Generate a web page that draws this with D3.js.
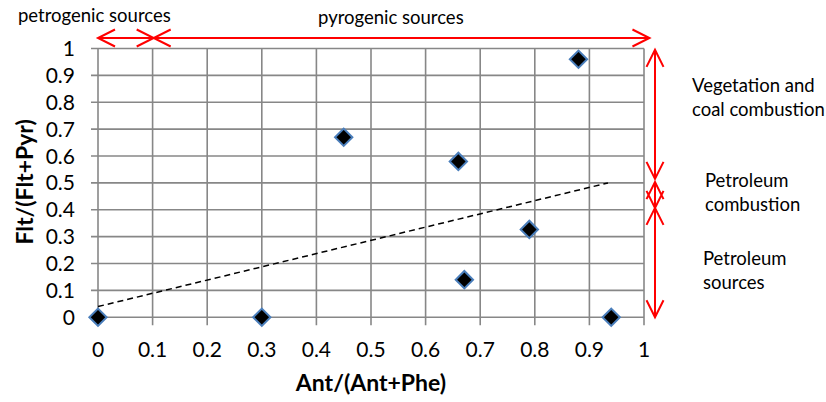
<!DOCTYPE html>
<html>
<head>
<meta charset="utf-8">
<script src="https://cdn.jsdelivr.net/npm/d3@7"></script>
<style>
  body { margin: 0; background: #fff; }
  text { font-family: Lato, "Open Sans", sans-serif; fill: #000; }
</style>
</head>
<body>
<script>
// data
var antRatio = [0, 0.3, 0.45, 0.66, 0.671, 0.79, 0.88, 0.94];
var fltRatio = [0, 0, 0.67, 0.58, 0.14, 0.327, 0.96, 0];
var trendX = [0, 0.934];
var trendY = [0.04, 0.5];
var xTicks = [0, 0.1, 0.2, 0.3, 0.4, 0.5, 0.6, 0.7, 0.8, 0.9, 1];
var yTicks = [0, 0.1, 0.2, 0.3, 0.4, 0.5, 0.6, 0.7, 0.8, 0.9, 1];

// source zones along each axis
var xZoneNames = ["petrogenic sources", "pyrogenic sources"];
var xZones = [[0, 0.102], [0.102, 1.01]];
var yZoneNames = [["Vegetation and", "coal combustion"], ["Petroleum", "combustion"], ["Petroleum", "sources"]];
var yZones = [[0.995, 0.515], [0.503, 0.407], [0.407, 0]];

var width = 826, height = 402;
var plotL = 98, plotR = 644, plotT = 48.5, plotB = 317.3;

var svg = d3.select("body").append("svg")
    .attr("width", width)
    .attr("height", height);

svg.append("rect").attr("width", width).attr("height", height).attr("fill", "#fff");

var x = d3.scaleLinear().domain([0, 1]).range([plotL, plotR]);
var y = d3.scaleLinear().domain([0, 1]).range([plotB, plotT]);

var grid = svg.append("g").attr("stroke", "#878787").attr("stroke-width", 1.6);

// vertical grid + ticks below the axis
grid.selectAll("line.v")
    .data(xTicks)
  .enter().append("line")
    .attr("class", "v")
    .attr("x1", d => x(d)).attr("x2", d => x(d))
    .attr("y1", plotT).attr("y2", plotB + 8);

// horizontal grid + ticks left of the axis
grid.selectAll("line.h")
    .data(yTicks)
  .enter().append("line")
    .attr("class", "h")
    .attr("x1", plotL - 7).attr("x2", plotR)
    .attr("y1", d => y(d)).attr("y2", d => y(d));

svg.selectAll("text.xt")
    .data(xTicks)
  .enter().append("text")
    .attr("class", "xt")
    .attr("x", d => x(d))
    .attr("y", 357)
    .attr("text-anchor", "middle")
    .style("font-size", "21px")
    .text(d => d3.format("")(d));

svg.selectAll("text.yt")
    .data(yTicks)
  .enter().append("text")
    .attr("class", "yt")
    .attr("x", 75)
    .attr("y", d => y(d) + 7.5)
    .attr("text-anchor", "end")
    .style("font-size", "21px")
    .text(d => d3.format("")(d));

// axis titles
svg.append("text")
    .attr("x", (plotL + plotR) / 2)
    .attr("y", 391)
    .attr("text-anchor", "middle")
    .style("font-size", "23px")
    .style("font-weight", "bold")
    .text("Ant/(Ant+Phe)");

svg.append("text")
    .attr("transform", "translate(33," + ((plotT + plotB) / 2 - 1) + ") rotate(-90)")
    .attr("text-anchor", "middle")
    .style("font-size", "23px")
    .style("font-weight", "bold")
    .text("Flt/(Flt+Pyr)");

// trend line
svg.append("line")
    .attr("x1", x(trendX[0])).attr("y1", y(trendY[0]))
    .attr("x2", x(trendX[1])).attr("y2", y(trendY[1]))
    .attr("stroke", "#000")
    .attr("stroke-width", 1.5)
    .attr("stroke-dasharray", "6,4");

// points
var pts = antRatio.map((a, i) => ({x: a, y: fltRatio[i]}));
svg.selectAll("path.pt")
    .data(pts)
  .enter().append("path")
    .attr("class", "pt")
    .attr("d", d3.symbol().type(d3.symbolSquare).size(150))
    .attr("transform", d => "translate(" + x(d.x) + "," + y(d.y) + ") rotate(45)")
    .attr("fill", "#000")
    .attr("stroke", "#4a7ebb")
    .attr("stroke-width", 2);

// double headed arrows
var headLen = 17, headW = 8.5;
function arrow(x1, y1, x2, y2) {
    var ang = Math.atan2(y2 - y1, x2 - x1);
    function head(tx, ty, a) {
        var bx = tx - headLen * Math.cos(a), by = ty - headLen * Math.sin(a);
        var px = -Math.sin(a) * headW, py = Math.cos(a) * headW;
        return "M" + (bx + px) + "," + (by + py) + "L" + tx + "," + ty + "L" + (bx - px) + "," + (by - py);
    }
    return "M" + x1 + "," + y1 + "L" + x2 + "," + y2 +
        head(x2, y2, ang) + head(x1, y1, ang + Math.PI);
}

var arrows = svg.append("g")
    .attr("fill", "none")
    .attr("stroke", "#ff0000")
    .attr("stroke-width", 2);

var arrowY = 38, arrowX = 655;
arrows.selectAll("path.xa")
    .data(xZones)
  .enter().append("path")
    .attr("class", "xa")
    .attr("d", d => arrow(x(d[0]), arrowY, x(d[1]), arrowY));

arrows.selectAll("path.ya")
    .data(yZones)
  .enter().append("path")
    .attr("class", "ya")
    .attr("d", d => arrow(arrowX, y(d[0]), arrowX, y(d[1])));

// zone labels
var xLabelPos = [[18, 22], [318, 24]];
svg.selectAll("text.xz")
    .data(xZoneNames)
  .enter().append("text")
    .attr("class", "xz")
    .attr("x", (d, i) => xLabelPos[i][0])
    .attr("y", (d, i) => xLabelPos[i][1])
    .style("font-size", "18.5px")
    .text(d => d);

var yLabelPos = [[692, 92], [705, 187], [703, 265]];
yZoneNames.forEach(function(lines, i) {
    var t = svg.append("text")
        .attr("x", yLabelPos[i][0])
        .attr("y", yLabelPos[i][1])
        .style("font-size", "18.5px");
    lines.forEach(function(l, j) {
        t.append("tspan")
            .attr("x", yLabelPos[i][0])
            .attr("dy", j ? 24 : 0)
            .text(l);
    });
});
</script>
</body>
</html>
